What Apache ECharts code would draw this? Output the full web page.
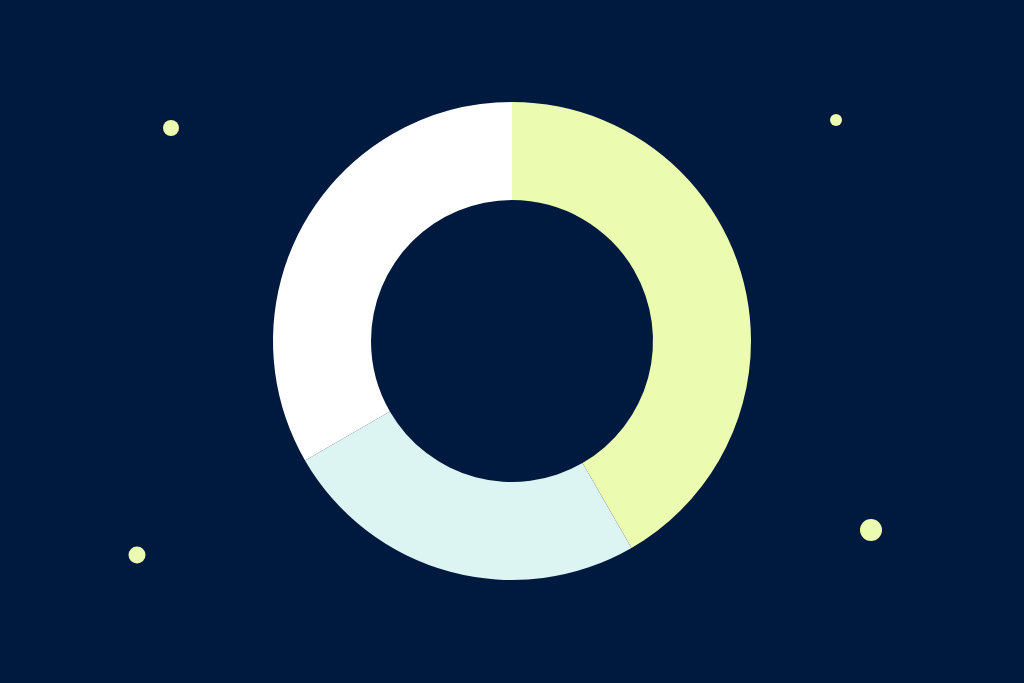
<!DOCTYPE html>
<html>
<head>
<meta charset="utf-8">
<script src="https://cdn.jsdelivr.net/npm/echarts@6/dist/echarts.min.js"></script>
<style>
  html, body { margin: 0; padding: 0; background: #001a3f; }
  #chart { width: 1024px; height: 683px; }
</style>
</head>
<body>
<div id="chart"></div>
<script>
// ring slices, clockwise from 12 o'clock
var sliceNames = ['A', 'B', 'C'];
var sliceValues = [5, 3, 4];
var sliceColors = ['#ebfbb0', '#ddf5f2', '#ffffff'];

// decorative dots: [x, y, diameter] in page pixels
var dots = [
  [171, 128, 16],
  [836, 120, 12],
  [137, 555, 17],
  [871, 530, 22]
];

var chart = echarts.init(document.getElementById('chart'));
var pieData = sliceNames.map(function (n, i) {
  return { name: n, value: sliceValues[i], itemStyle: { color: sliceColors[i] } };
});

chart.setOption({
  backgroundColor: '#001a3f',
  animation: false,
  grid: { left: 0, right: 0, top: 0, bottom: 0 },
  xAxis: { type: 'value', min: 0, max: 1024, show: false },
  yAxis: { type: 'value', min: 0, max: 683, inverse: true, show: false },
  series: [
    {
      type: 'pie',
      center: [512, 341],
      radius: [141, 239],
      startAngle: 90,
      clockwise: true,
      itemStyle: { borderWidth: 0 },
      label: { show: false },
      labelLine: { show: false },
      emphasis: { disabled: true },
      data: pieData
    },
    {
      type: 'scatter',
      data: dots,
      symbolSize: function (d) { return d[2]; },
      itemStyle: { color: '#ebfbb0', opacity: 1 },
      emphasis: { disabled: true }
    }
  ]
});
</script>
</body>
</html>
